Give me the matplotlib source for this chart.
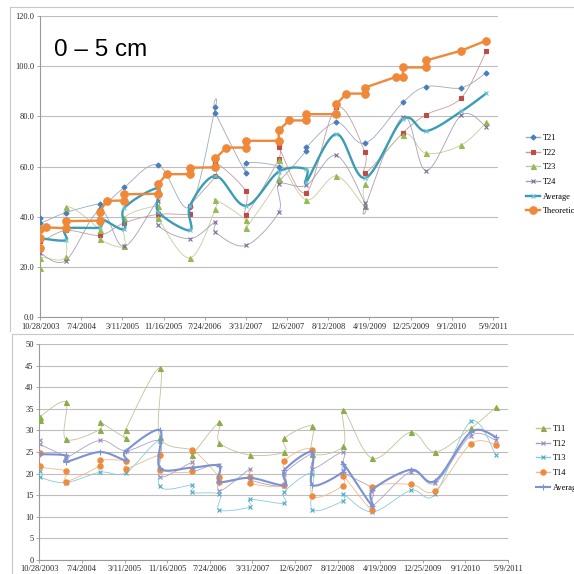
import numpy as np
import matplotlib
matplotlib.use("Agg")
import matplotlib.pyplot as plt
from matplotlib.lines import Line2D

# ---------------- data ----------------
BASE = "2003-10-28"
tick_labels = ["10/28/2003", "7/4/2004", "3/11/2005", "11/16/2005", "7/24/2006",
               "3/31/2007", "12/6/2007", "8/12/2008", "4/19/2009", "12/25/2009",
               "9/1/2010", "5/9/2011"]

# sampling dates, 0-5 cm layer
top_dates = ["2003-10-28", "2004-04-01", "2004-10-25", "2005-03-22", "2005-10-14",
             "2006-04-25", "2006-09-27", "2007-03-30", "2007-10-16", "2008-04-01",
             "2008-09-30", "2009-03-23", "2009-11-08", "2010-03-30", "2010-10-28",
             "2011-03-29"]

t21_idx = [0, 0, 1, 2, 2, 3, 4, 5, 6, 6, 7, 7, 8, 8, 9, 9, 10, 11, 12, 13, 14, 15]
t21_val = [39.5, 37.5, 41.7, 45.2, 43.0, 51.7, 60.7, 44.0, 83.8, 81.4, 57.6, 61.6,
           60.0, 54.4, 66.4, 67.7, 77.6, 69.3, 85.6, 91.9, 91.4, 97.4]

t22_idx = [0, 0, 1, 2, 3, 4, 5, 5, 6, 6, 7, 7, 8, 8, 9, 10, 11, 11, 12, 13, 14, 15]
t22_val = [35.1, 30.2, 34.6, 32.7, 37.6, 41.0, 41.1, 44.4, 56.3, 61.7, 50.3, 40.8,
           63.0, 67.7, 49.7, 83.6, 65.7, 57.4, 73.5, 80.7, 87.4, 106.0]

t23_idx = [0, 0, 1, 1, 2, 2, 3, 3, 4, 4, 5, 6, 6, 7, 7, 8, 8, 9, 10, 11, 11, 12, 13, 14, 15]
t23_val = [19.6, 23.8, 24.2, 43.8, 34.8, 31.1, 28.3, 39.6, 44.3, 39.7, 23.6, 43.3,
           46.8, 38.8, 35.5, 55.0, 62.7, 46.8, 56.3, 44.3, 53.2, 72.8, 65.3, 68.6, 77.6]

t24_idx = [0, 1, 2, 3, 4, 4, 5, 6, 6, 7, 8, 8, 9, 10, 11, 11, 12, 13, 14, 15]
t24_val = [25.6, 22.6, 42.5, 28.2, 46.5, 36.7, 31.3, 38.0, 33.9, 28.6, 41.8, 53.0,
           52.6, 64.5, 45.4, 44.1, 79.9, 58.4, 80.5, 75.9]

avg2_idx = [0, 1, 1, 2, 2, 3, 3, 4, 4, 5, 5, 6, 7, 8, 9, 9, 10, 11, 12, 13, 14, 15]
avg2_val = [31.5, 30.7, 35.3, 35.8, 39.5, 35.0, 43.5, 51.4, 42.1, 34.6, 44.4, 56.3,
            44.4, 58.0, 59.0, 54.0, 73.0, 55.5, 78.9, 74.2, 82.0, 89.2]

theo_dates = ["2003-10-28", "2003-10-28", "2003-10-28", "2003-12-03", "2004-04-01",
              "2004-04-01", "2004-10-25", "2004-10-25", "2004-12-05", "2005-03-22",
              "2005-03-22", "2005-10-14", "2005-10-14", "2005-12-04", "2006-04-25",
              "2006-04-25", "2006-09-27", "2006-09-27", "2006-12-03", "2007-03-30",
              "2007-03-30", "2007-10-16", "2007-10-16", "2007-12-18", "2008-04-01",
              "2008-04-01", "2008-09-30", "2008-09-30", "2008-11-30", "2009-03-23",
              "2009-03-23", "2009-09-29", "2009-11-08", "2009-11-08", "2010-03-30",
              "2010-03-30", "2010-10-28", "2011-03-29"]
theo_val = [27.5, 31.5, 35.0, 35.8, 35.5, 38.3, 38.5, 42.0, 46.4, 46.5, 49.0, 49.2,
            53.0, 57.0, 57.0, 59.6, 59.7, 63.3, 67.6, 67.6, 70.3, 70.3, 74.5, 78.4,
            78.4, 80.9, 80.9, 84.9, 89.1, 89.1, 91.5, 95.8, 95.8, 99.5, 99.5, 102.3,
            106.2, 110.2]

# sampling dates, second layer
bot_dates = ["2003-11-01", "2004-03-31", "2004-10-18", "2005-03-18", "2005-10-04",
             "2006-04-13", "2006-09-18", "2007-03-17", "2007-10-05", "2008-03-17",
             "2008-09-15", "2009-03-04", "2009-10-16", "2010-03-07", "2010-10-03",
             "2011-02-28"]

t11_idx = [0, 0, 1, 1, 2, 2, 3, 3, 4, 4, 5, 5, 6, 6, 7, 8, 8, 9, 9, 10, 10, 11, 12, 13, 14, 15]
t11_val = [32.5, 33.2, 36.6, 28.0, 30.2, 31.9, 28.3, 30.2, 44.5, 28.5, 25.5, 24.4,
           31.9, 27.2, 24.3, 25.0, 28.2, 31.0, 24.6, 26.4, 34.8, 23.5, 29.6, 25.0,
           30.5, 35.4]

t12_idx = [0, 0, 1, 1, 2, 3, 4, 4, 5, 5, 6, 6, 7, 7, 8, 8, 9, 9, 10, 10, 11, 11, 12, 13, 14, 15]
t12_val = [27.9, 26.8, 24.0, 23.5, 27.7, 25.3, 27.5, 19.3, 22.6, 20.5, 22.0, 16.0,
           21.0, 18.6, 17.0, 20.0, 24.6, 21.0, 25.0, 20.5, 16.5, 12.5, 20.4, 17.8,
           28.8, 27.7]

t13_idx = [0, 0, 1, 2, 3, 4, 4, 5, 5, 6, 6, 7, 7, 8, 8, 9, 9, 10, 10, 11, 12, 13, 14, 15]
t13_val = [20.5, 19.2, 17.9, 20.3, 20.2, 27.5, 17.0, 17.3, 15.6, 15.2, 11.5, 12.2,
           14.0, 13.1, 15.8, 20.0, 11.6, 13.7, 15.2, 11.1, 16.1, 15.2, 32.1, 24.3]

t14_idx = [0, 0, 1, 1, 2, 2, 3, 3, 4, 4, 5, 5, 6, 6, 7, 7, 8, 8, 9, 9, 10, 10, 11, 11, 12, 13, 14, 15]
t14_val = [24.8, 21.7, 20.6, 18.1, 21.8, 23.1, 22.9, 21.1, 24.2, 20.9, 20.6, 25.5,
           19.2, 18.1, 19.2, 17.7, 17.3, 22.9, 25.4, 14.8, 17.2, 19.4, 11.5, 16.9,
           17.5, 16.0, 26.9, 26.7]

avg1_idx = [0, 1, 1, 2, 3, 3, 4, 4, 5, 6, 6, 7, 8, 8, 9, 9, 10, 10, 11, 11, 12, 13, 14, 15]
avg1_val = [24.5, 24.2, 22.7, 25.0, 23.1, 25.2, 30.1, 21.3, 21.4, 21.8, 18.1, 19.0,
            17.3, 20.8, 25.0, 17.3, 20.4, 22.3, 12.5, 16.2, 20.9, 18.3, 29.6, 28.5]


# ---------------- helpers ----------------
def days(d):
    return (np.datetime64(d) - np.datetime64(BASE)).astype(int)


def xs_from(dates, idx):
    return np.array([days(dates[i]) for i in idx], float)


def smooth(x, y, sx, sy, n=18):
    """Excel-style smoothed line (Bezier through points, computed in pixel space)."""
    P = np.column_stack([np.asarray(x, float) * sx, np.asarray(y, float) * sy])
    if len(P) < 3:
        return x, y
    E = np.vstack([P[0], P, P[-1]])
    t = np.linspace(0, 1, n)[:, None]
    parts = []
    for i in range(len(P) - 1):
        p0, p1, p2, p3 = E[i], E[i + 1], E[i + 2], E[i + 3]
        c1 = p1 + (p2 - p0) / 6.0
        c2 = p2 - (p3 - p1) / 6.0
        seg = (1 - t) ** 3 * p1 + 3 * (1 - t) ** 2 * t * c1 + 3 * (1 - t) * t ** 2 * c2 + t ** 3 * p2
        parts.append(seg if i == 0 else seg[1:])
    S = np.vstack(parts)
    return S[:, 0] / sx, S[:, 1] / sy


FIG = 574
fig = plt.figure(figsize=(FIG / 100, FIG / 100), dpi=100)
TFONT = "Liberation Serif"
TXT = "#262626"
GRID = "#BEBEBE"
AXC = "#9A9A9A"


def style_axes(ax, xmax, ymax, ystep, fmt):
    ax.set_xlim(0, xmax)
    ax.set_ylim(0, ymax)
    ax.set_xticks(np.arange(len(tick_labels)) * 250)
    ax.set_xticklabels(tick_labels)
    yt = np.arange(0, ymax + 0.01, ystep)
    ax.set_yticks(yt)
    ax.set_yticklabels([fmt.format(v) for v in yt])
    for lab in ax.get_xticklabels() + ax.get_yticklabels():
        lab.set_fontfamily(TFONT)
        lab.set_fontsize(6)
        lab.set_color(TXT)
    ax.tick_params(axis="both", direction="out", length=2.5, width=0.6, color=AXC, pad=1.5)
    ax.grid(axis="y", color=GRID, lw=0.8)
    ax.set_axisbelow(True)
    for s in ("top", "right"):
        ax.spines[s].set_visible(False)
    for s in ("left", "bottom"):
        ax.spines[s].set_color(AXC)
        ax.spines[s].set_linewidth(0.8)
    ax.patch.set_alpha(0)


def draw(ax, x, y, sx, sy, color, lcolor, marker, ms, lw, label, mew=0.8, smoothed=True, z=3):
    if smoothed:
        cx, cy = smooth(x, y, sx, sy)
    else:
        cx, cy = x, y
    ax.plot(cx, cy, color=lcolor, lw=lw, zorder=z, solid_capstyle="round")
    ax.plot(x, y, ls="none", marker=marker, ms=ms, color=color, mec=color, mew=mew, zorder=z + 0.5)
    return Line2D([], [], color=lcolor, lw=max(lw, 1.0), marker=marker, ms=ms, mfc=color,
                  mec=color, mew=mew), label


# ---------------- top chart ----------------
t_left, t_right, t_top, t_bot = 40.0, 498.0, 16.0, 317.3
ax1 = fig.add_axes([t_left / FIG, 1 - t_bot / FIG, (t_right - t_left) / FIG, (t_bot - t_top) / FIG])
X1MAX, Y1MAX = 2780, 120
sx1 = (t_right - t_left) / X1MAX
sy1 = (t_bot - t_top) / Y1MAX
style_axes(ax1, X1MAX, Y1MAX, 20, "{:.1f}")

h1 = []
h1.append(draw(ax1, xs_from(top_dates, t21_idx), t21_val, sx1, sy1, "#4A7EBB", "#9AAAC4", "D", 2.6, 0.6, "T21"))
h1.append(draw(ax1, xs_from(top_dates, t22_idx), t22_val, sx1, sy1, "#BE4B48", "#C59C9B", "s", 3.4, 0.6, "T22"))
h1.append(draw(ax1, xs_from(top_dates, t23_idx), t23_val, sx1, sy1, "#98B954", "#C3CBA0", "^", 3.6, 0.6, "T23"))
h1.append(draw(ax1, xs_from(top_dates, t24_idx), t24_val, sx1, sy1, "#7D6A99", "#A79DB8", "x", 3.4, 0.6, "T24"))
h1.append(draw(ax1, xs_from(top_dates, avg2_idx), avg2_val, sx1, sy1, "#6CC3D8", "#3A9DB4", "x", 3.4, 1.7, "Average", z=4))
theo_x = np.array([days(d) for d in theo_dates], float)
h1.append(draw(ax1, theo_x, theo_val, sx1, sy1, "#F0883A", "#F0883A", "o", 5.4, 1.7, "Theoretical",
               smoothed=False, z=5))

ax1.legend([h for h, _ in h1], [l for _, l in h1], loc="upper left",
           bbox_to_anchor=(526 / FIG, 1 - 134 / FIG), bbox_transform=fig.transFigure,
           frameon=False, borderpad=0, borderaxespad=0, handlelength=1.7, handletextpad=0.35,
           labelspacing=0.8, prop={"family": TFONT, "size": 6})

fig.text(54 / FIG, 1 - 56 / FIG, "0 \u2013 5 cm", fontsize=17.5, family="Liberation Sans",
         color="black", ha="left", va="baseline")

# ---------------- bottom chart ----------------
b_left, b_right, b_top, b_bot = 39.3, 508.3, 344.3, 559.7
ax2 = fig.add_axes([b_left / FIG, 1 - b_bot / FIG, (b_right - b_left) / FIG, (b_bot - b_top) / FIG])
X2MAX, Y2MAX = 2752, 50
sx2 = (b_right - b_left) / X2MAX
sy2 = (b_bot - b_top) / Y2MAX
style_axes(ax2, X2MAX, Y2MAX, 5, "{:.0f}")

h2 = []
h2.append(draw(ax2, xs_from(bot_dates, t11_idx), t11_val, sx2, sy2, "#8AAE4A", "#C2C29A", "^", 3.6, 0.6, "T11"))
h2.append(draw(ax2, xs_from(bot_dates, t12_idx), t12_val, sx2, sy2, "#9A8CB8", "#ABA0C6", "x", 3.4, 0.6, "T12"))
h2.append(draw(ax2, xs_from(bot_dates, t13_idx), t13_val, sx2, sy2, "#4BACC6", "#8ACAD8", "x", 3.4, 0.6, "T13"))
h2.append(draw(ax2, xs_from(bot_dates, t14_idx), t14_val, sx2, sy2, "#F08A3C", "#F2B98A", "o", 3.8, 0.6, "T14"))
h2.append(draw(ax2, xs_from(bot_dates, avg1_idx), avg1_val, sx2, sy2, "#7D92D2", "#7D92D2", "+", 4.0, 1.5, "Average", z=4))

ax2.legend([h for h, _ in h2], [l for _, l in h2], loc="upper left",
           bbox_to_anchor=(536 / FIG, 1 - 425 / FIG), bbox_transform=fig.transFigure,
           frameon=False, borderpad=0, borderaxespad=0, handlelength=1.7, handletextpad=0.35,
           labelspacing=0.8, prop={"family": TFONT, "size": 6})

# chart frames
frame = "#C8C8C8"
fig.add_artist(Line2D([10 / FIG, 1], [1 - 7 / FIG] * 2, transform=fig.transFigure, color=frame, lw=0.8))
fig.add_artist(Line2D([10 / FIG] * 2, [1 - 7 / FIG, 1 - 331 / FIG], transform=fig.transFigure, color=frame, lw=0.8))
fig.add_artist(Line2D([12 / FIG, 1], [1 - 334 / FIG] * 2, transform=fig.transFigure, color=frame, lw=0.8))
fig.add_artist(Line2D([12 / FIG] * 2, [1 - 334 / FIG, 0], transform=fig.transFigure, color=frame, lw=0.8))

fig.savefig("out.png", dpi=100)
